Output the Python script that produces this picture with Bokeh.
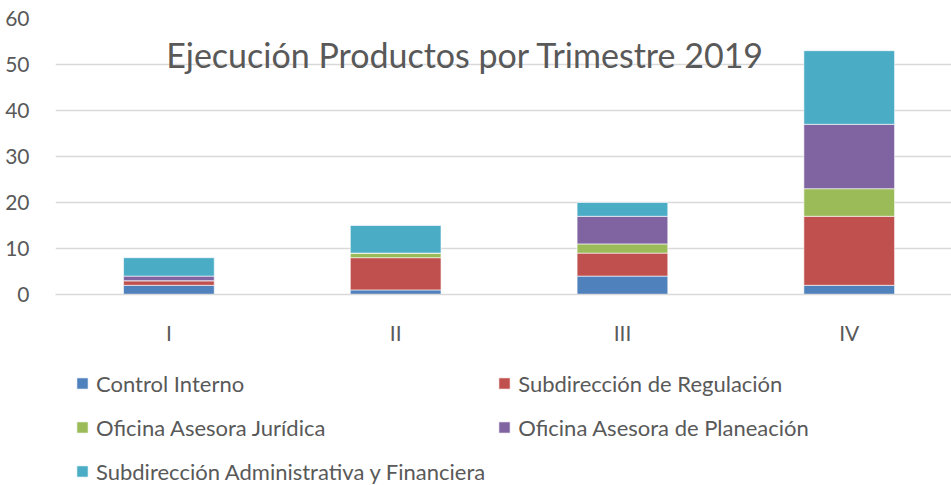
from bokeh.plotting import figure
from bokeh.models import (ColumnDataSource, Legend, LegendItem, Label, Range1d,
                          FixedTicker)
from bokeh.layouts import column
from bokeh.embed import file_html
from bokeh.resources import INLINE

categories = ["I", "II", "III", "IV"]
series_names = ["Control Interno", "Subdirección de Regulación",
                "Oficina Asesora Jurídica", "Oficina Asesora de Planeación",
                "Subdirección Administrativa y Financiera"]
control_interno = [2, 1, 4, 2]
subdireccion_regulacion = [1, 7, 5, 15]
oficina_juridica = [0, 1, 2, 6]
oficina_planeacion = [1, 0, 6, 14]
subdireccion_administrativa = [4, 6, 3, 16]
y_ticks = [0, 10, 20, 30, 40, 50, 60]
title_text = "Ejecución Productos por Trimestre 2019"

colors = ["#4F81BD", "#C0504D", "#9BBB59", "#8064A2", "#4BACC6"]
FONT = "Lato"
TXT = "#595959"
GRID = "#D9D9D9"

xpos = [i + 0.5 for i in range(len(categories))]
keys = ["s0", "s1", "s2", "s3", "s4"]
data = dict(x=xpos)
for k, vals in zip(keys, [control_interno, subdireccion_regulacion, oficina_juridica,
                          oficina_planeacion, subdireccion_administrativa]):
    data[k] = vals
source = ColumnDataSource(data)

p = figure(width=951, height=347, output_backend="svg", toolbar_location=None,
           x_range=Range1d(0, 3.951), y_range=Range1d(0, 60),
           min_border_left=55, min_border_right=0, min_border_top=18,
           min_border_bottom=47)
p.outline_line_color = None
p.background_fill_color = "white"
p.border_fill_color = "white"

renderers = p.vbar_stack(keys, x="x", width=0.4, source=source, color=colors,
                         line_color="white", line_alpha=0.6, line_width=1)

p.xgrid.visible = False
p.ygrid.grid_line_color = GRID
p.ygrid.grid_line_width = 1.5
p.ygrid.ticker = FixedTicker(ticks=y_ticks)

p.yaxis.ticker = FixedTicker(ticks=y_ticks)
p.yaxis.axis_line_color = None
p.yaxis.major_tick_line_color = None
p.yaxis.minor_tick_line_color = None
p.yaxis.major_label_standoff = 20
p.yaxis.major_label_text_font = FONT
p.yaxis.major_label_text_font_size = "21px"
p.yaxis.major_label_text_color = TXT

p.xaxis.ticker = FixedTicker(ticks=xpos)
p.xaxis.major_label_overrides = {x: c for x, c in zip(xpos, categories)}
p.xaxis.axis_line_color = GRID
p.xaxis.axis_line_width = 1.5
p.xaxis.major_tick_line_color = None
p.xaxis.minor_tick_line_color = None
p.xaxis.major_label_standoff = 19
p.xaxis.major_label_text_font = FONT
p.xaxis.major_label_text_font_size = "21px"
p.xaxis.major_label_text_color = TXT

title = Label(x=410, y=240, x_units="screen", y_units="screen", text=title_text,
              text_font=FONT, text_font_size="34px", text_color=TXT,
              text_align="center", text_baseline="alphabetic")
p.add_layout(title)

# legend panel (separate figure holding the legend swatches)
lg = figure(width=951, height=138, output_backend="svg", toolbar_location=None,
            x_range=Range1d(0, 1), y_range=Range1d(0, 1),
            min_border=0, min_border_left=0, min_border_right=0,
            min_border_top=0, min_border_bottom=0)
lg.outline_line_color = None
lg.axis.visible = False
lg.grid.visible = False
swatches = []
for k, c in zip(keys, colors):
    r = lg.vbar(x="x", top=k, width=0.1, source=source, color=c,
                line_color="white", line_alpha=0.6)
    r.visible = False
    swatches.append(r)

items = [LegendItem(label=n, renderers=[r]) for n, r in zip(series_names, swatches)]
legend = Legend(items=items, location=(20, -2), orientation="horizontal", ncols=2,
                glyph_width=14, glyph_height=14, label_standoff=7,
                label_width=385, label_height=32, spacing=12, padding=0, margin=0,
                label_text_font=FONT, label_text_font_size="22px",
                label_text_color=TXT, background_fill_alpha=0,
                border_line_color=None)
lg.add_layout(legend, "center")

layout = column(p, lg, spacing=0)
open("out.html", "w").write(file_html(layout, INLINE))
